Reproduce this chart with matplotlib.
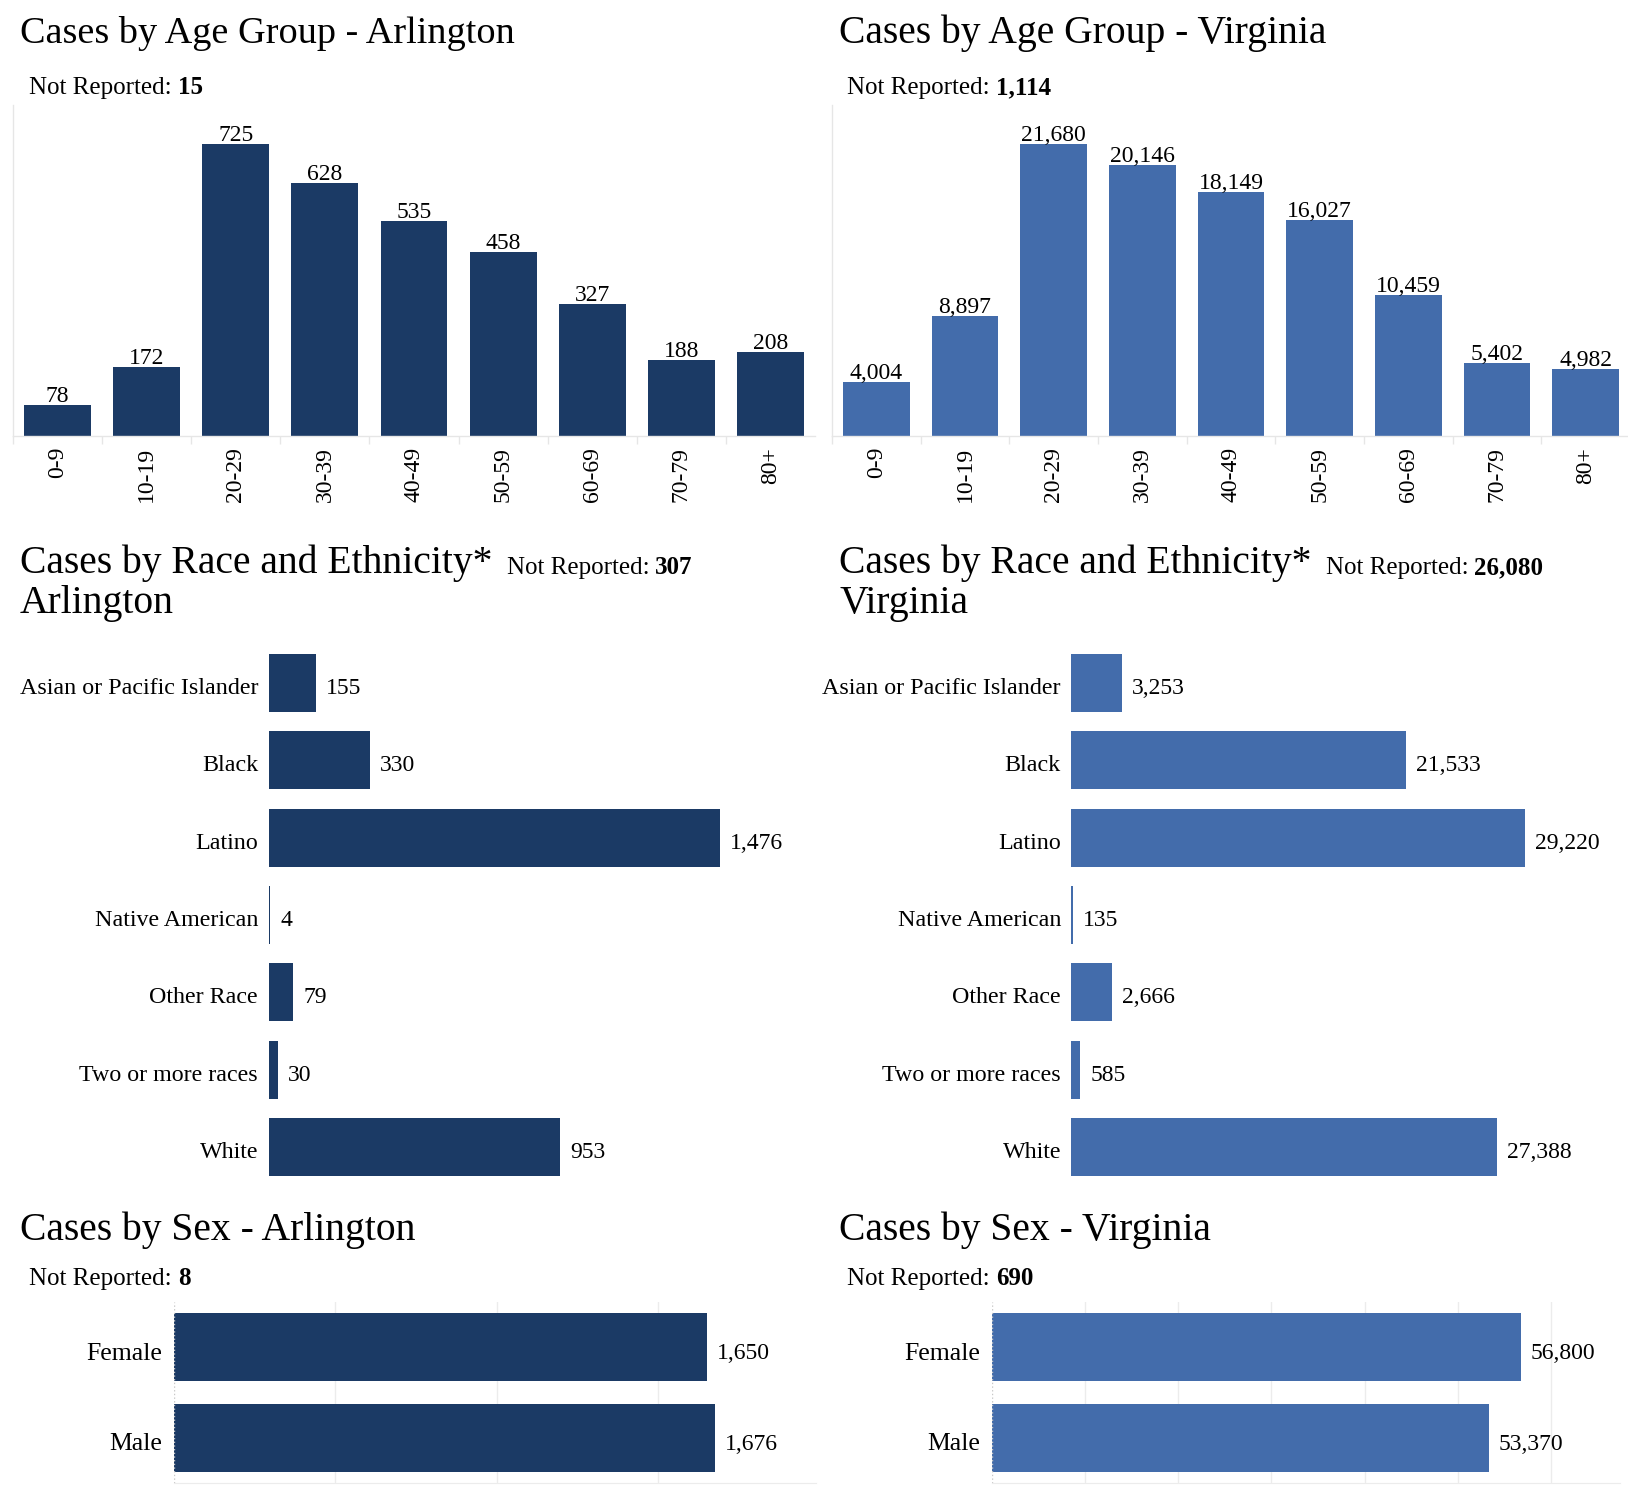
import matplotlib
matplotlib.use("Agg")
import matplotlib.pyplot as plt
from matplotlib.ticker import FixedLocator
from matplotlib.transforms import ScaledTranslation

# Datos
edades = ['0-9', '10-19', '20-29', '30-39', '40-49', '50-59', '60-69', '70-79', '80+']
edad_arl = [78, 172, 725, 628, 535, 458, 327, 188, 208]
edad_va = [4004, 8897, 21680, 20146, 18149, 16027, 10459, 5402, 4982]

razas = ['Asian or Pacific Islander', 'Black', 'Latino', 'Native American',
         'Other Race', 'Two or more races', 'White']
raza_arl = [155, 330, 1476, 4, 79, 30, 953]
raza_va = [3253, 21533, 29220, 135, 2666, 585, 27388]

sexos = ['Female', 'Male']
sexo_arl = [1650, 1676]
sexo_va = [56800, 53370]

no_rep_edad = ['15', '1,114']
no_rep_raza = ['307', '26,080']
no_rep_sexo = ['8', '690']

ARL = '#1b3a65'
VA = '#436cab'
GRIS = '#e6e6e6'

plt.rcParams['font.family'] = ['Liberation Serif', 'DejaVu Serif']

W, H = 1628, 1490
fig = plt.figure(figsize=(W / 100, H / 100), dpi=100)


def ejes(x0, y0, x1, y1):
    return fig.add_axes([x0 / W, 1 - y1 / H, (x1 - x0) / W, (y1 - y0) / H])


def texto(x, y, s, **kw):
    return fig.text(x / W, 1 - y / H, s, va='baseline', **kw)


def no_reportado(x, y, valor):
    t = texto(x, y, 'Not Reported: ', fontsize=18)
    r = fig.canvas.get_renderer()
    x1 = t.get_window_extent(r).x1
    fig.text(x1 / W, 1 - y / H, valor, fontsize=18, fontweight='bold', va='baseline')


def bajar_etiquetas(ax, px):
    desplaza = ScaledTranslation(0, -px / 100, fig.dpi_scale_trans)
    for lab in ax.get_yticklabels():
        lab.set_transform(lab.get_transform() + desplaza)


def grafica_edad(ax, valores, color, ymax):
    x = list(range(len(edades)))
    ax.bar(x, valores, width=0.75, color=color)
    ax.set_xlim(-0.5, len(edades) - 0.5)
    ax.set_ylim(0, ymax)
    for i, v in enumerate(valores):
        ax.annotate(f'{v:,}', (i, v), xytext=(0, 3), textcoords='offset pixels',
                    ha='center', va='baseline', fontsize=17)
    ax.set_xticks(x)
    ax.set_xticklabels(edades, rotation=90, fontsize=17)
    ax.tick_params(axis='x', which='major', length=0, pad=7.9)
    ax.xaxis.set_minor_locator(FixedLocator([i - 0.5 for i in range(len(edades))]))
    ax.tick_params(axis='x', which='minor', length=5.8, color=GRIS, width=1)
    ax.set_yticks([])
    for s in ['top', 'right']:
        ax.spines[s].set_visible(False)
    for s in ['left', 'bottom']:
        ax.spines[s].set_color(GRIS)
        ax.spines[s].set_linewidth(1)


def grafica_raza(ax, valores, color, xmax, pad):
    y = list(range(len(razas)))
    ax.barh(y, valores, height=0.75, color=color)
    ax.set_ylim(len(razas) - 0.5, -0.5)
    ax.set_xlim(0, xmax)
    for i, v in enumerate(valores):
        ax.annotate(f'{v:,}', (v, i), xytext=(10, -3), textcoords='offset pixels',
                    ha='left', va='center_baseline', fontsize=17)
    ax.set_yticks(y)
    ax.set_yticklabels(razas, fontsize=17.3)
    ax.tick_params(axis='y', length=0, pad=pad)
    bajar_etiquetas(ax, 3)
    ax.set_xticks([])
    for s in ax.spines.values():
        s.set_visible(False)


def grafica_sexo(ax, valores, color, xmax, rejilla):
    y = list(range(len(sexos)))
    ax.set_xticks(rejilla)
    ax.grid(axis='x', color='#ececec', linewidth=1)
    ax.set_axisbelow(True)
    ax.axvline(0, color='#c8c8c8', linestyle=':', linewidth=1)
    ax.barh(y, valores, height=0.75, color=color)
    ax.set_ylim(len(sexos) - 0.5, -0.5)
    ax.set_xlim(0, xmax)
    for i, v in enumerate(valores):
        ax.annotate(f'{v:,}', (v, i), xytext=(10, -4), textcoords='offset pixels',
                    ha='left', va='center_baseline', fontsize=17)
    ax.set_yticks(y)
    ax.set_yticklabels(sexos, fontsize=18.5)
    ax.tick_params(axis='y', length=0, pad=8.6)
    bajar_etiquetas(ax, 4)
    ax.tick_params(axis='x', length=0, labelbottom=False)
    for s in ['top', 'right', 'left']:
        ax.spines[s].set_visible(False)
    ax.spines['bottom'].set_color('#ececec')


# Edad
texto(20, 43, 'Cases by Age Group - Arlington', fontsize=27.5)
no_reportado(29, 94, no_rep_edad[0])
texto(839, 43, 'Cases by Age Group - Virginia', fontsize=28.5)
no_reportado(847, 94, no_rep_edad[1])

ax1 = ejes(13, 105, 815, 436)
grafica_edad(ax1, edad_arl, ARL, 822)
ax2 = ejes(832, 105, 1630, 436)
grafica_edad(ax2, edad_va, VA, 24580)

# Raza
r = fig.canvas.get_renderer()
t1 = texto(20, 573, 'Cases by Race and Ethnicity*', fontsize=28.5)
no_reportado(t1.get_window_extent(r).x1 + 14, 574, no_rep_raza[0])
texto(20, 613, 'Arlington', fontsize=28.5)
t2 = texto(839, 573, 'Cases by Race and Ethnicity*', fontsize=28.5)
no_reportado(t2.get_window_extent(r).x1 + 14, 574, no_rep_raza[1])
texto(839, 613, 'Virginia', fontsize=28.5)

ax3 = ejes(269, 644, 800, 1186)
grafica_raza(ax3, raza_arl, ARL, 1738, 7.9)
ax4 = ejes(1071, 644, 1620, 1186)
grafica_raza(ax4, raza_va, VA, 35330, 7.2)

# Sexo
texto(20, 1240, 'Cases by Sex - Arlington', fontsize=28.5)
no_reportado(29, 1285, no_rep_sexo[0])
texto(839, 1240, 'Cases by Sex - Virginia', fontsize=28.5)
no_reportado(847, 1285, no_rep_sexo[1])

ax5 = ejes(174, 1302, 816, 1483)
grafica_sexo(ax5, sexo_arl, ARL, 1988, [500, 1000, 1500])
ax6 = ejes(992, 1302, 1620, 1483)
grafica_sexo(ax6, sexo_va, VA, 67430, [10000, 20000, 30000, 40000, 50000, 60000])

fig.savefig('out.png', dpi=100)
